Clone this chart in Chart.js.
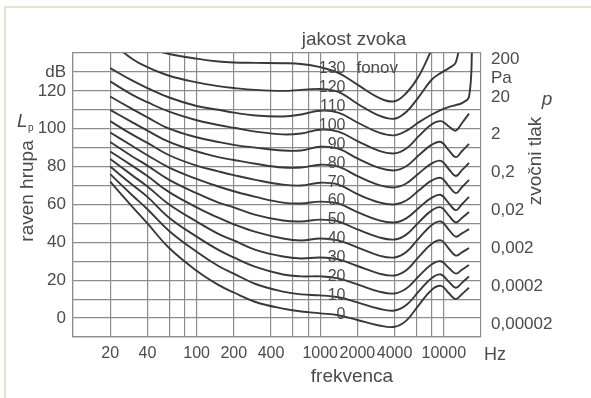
<!DOCTYPE html>
<html><head><meta charset="utf-8">
<script src="https://cdn.jsdelivr.net/npm/chart.js@4"></script>
<style>
html,body{margin:0;padding:0;background:#fff;}
#wrap{position:relative;width:591px;height:398px;overflow:hidden;background:#fff;}
#frame{position:absolute;left:4px;top:6px;width:640px;height:440px;border:2px solid #e6e2cc;box-sizing:border-box;}
canvas{position:absolute;left:0;top:0;}
</style></head><body>
<div id="wrap"><div id="frame"></div><canvas id="c" width="591" height="398"></canvas></div>
<script>
// frequencies (Hz) of the sampled points
const freq = [20, 30, 40, 60, 100, 150, 200, 300, 500, 700, 1000, 1400, 2000, 3000, 4000, 5000, 6300, 8000, 9500, 11000, 12500, 14000, 16000, 17000];
// loudness levels (phon)
const phon = [0, 10, 20, 30, 40, 50, 60, 70, 80, 90, 100, 110, 120, 130];
// sound pressure level (dB) of each equal-loudness curve
const lvl0   = [72, 59, 50, 37, 25, 17.5, 13.5, 8.5, 5, 3.5, 2.5, 1.5, -1, -3.9, -4.6, -1.2, 7, 15, 17, 13.1, 10, 12.6, 16, null];
const lvl10  = [76, 65, 57.5, 46, 35, 27.5, 23.5, 18, 14, 12.5, 12, 11, 8.3, 4.9, 4, 7, 14.2, 21.2, 23, 19.1, 16, 18.6, 22, null];
const lvl20  = [80, 70.5, 64, 53, 43, 36, 32, 27, 23, 22, 22, 21, 17.8, 14, 13, 15.7, 22.2, 28.4, 30, 26.4, 23.5, 25.5, 28, null];
const lvl30  = [84, 75.5, 69.5, 60, 51, 44.5, 41, 36, 32.5, 31.5, 32, 31, 27.5, 23.5, 22.5, 25.4, 32.5, 39.3, 41, 36.6, 33, 34.7, 37, null];
const lvl40  = [88, 80.5, 75, 66.5, 58.5, 53, 49.5, 45.5, 42, 41, 42, 41, 37.3, 33, 32, 35, 42.2, 49.2, 51, 46.6, 43, 44.7, 47, null];
const lvl50  = [93, 85.5, 80.5, 73, 66, 61, 58.5, 54.5, 51.5, 51, 52, 51, 46.8, 42.6, 41.5, 44.2, 50.7, 56.9, 58.5, 54.1, 50.5, 52.9, 56, null];
const lvl60  = [98, 91, 86, 79.5, 73.5, 69.5, 67, 64, 61, 60.5, 61.5, 60.5, 56, 51.6, 50.5, 52.8, 58.3, 63.6, 65, 60.6, 57, 60.1, 64, null];
const lvl70  = [104, 97, 92.5, 86, 80.5, 77.5, 75.5, 73, 70.5, 70, 71.5, 70.5, 65.5, 61.1, 60, 62.2, 67.5, 72.7, 74, 69.6, 66, 69.1, 73, null];
const lvl80  = [110, 103.5, 99, 93, 88, 85, 83.5, 81.5, 79.5, 79.5, 81, 80, 75, 70.2, 69, 71.2, 76.5, 81.7, 83, 78.6, 75, 78.1, 82, null];
const lvl90  = [117, 110.5, 106, 100, 95.5, 93, 91.5, 90, 88.5, 88.5, 90.5, 89.5, 84.3, 79.3, 78, 80.3, 86.1, 91.6, 93, 88.6, 85, 88.1, 92, null];
const lvl100 = [125, 118, 114, 109, 104.5, 102, 100.5, 98.5, 97, 97.5, 99.5, 98.5, 93.5, 88.3, 87, 89.7, 96.2, 102.4, 104, 101.2, 99, 102.9, 108, null];
const lvl110 = [132, 125.5, 121.5, 116.5, 112, 110, 108.5, 107, 106.5, 107.5, 109.5, 108.5, 103.3, 97.9, 96.5, 99, 103.5, 107.5, 110, 111.5, 112.5, 113.5, 117, 145];
const lvl120 = [146, 137, 132.5, 128, 124.5, 122.5, 121.5, 120.5, 120, 120.5, 121, 119.5, 113.2, 106.9, 105.3, 109, 117, 126, 129.5, 132, 135, 152, null, null];
const lvl130 = [null, null, 142.5, 139.5, 137, 135.5, 135, 134.8, 134.6, 134.2, 132.5, 129.5, 123.3, 116.3, 114.5, 119, 128, 142, null, null, null, null, null, null];

// axes
const xGrid = [10, 20, 40, 60, 80, 100, 200, 400, 600, 800, 1000, 2000, 4000, 6000, 8000, 10000, 20000];
const xTickVals = [20, 40, 100, 200, 400, 1000, 2000, 4000, 10000];
const xTickText = ['20', '40', '100', '200', '400', '1000', '2000', '4000', '10000'];
const yGrid = [-10, 0, 10, 20, 30, 40, 50, 60, 70, 80, 90, 100, 110, 120, 130, 140];
const yLeftVals = [0, 20, 40, 60, 80, 100, 120, 130];
const yLeftText = ['0', '20', '40', '60', '80', '100', '120', 'dB'];
const yRightVals = [140, 130, 120, 100, 80, 60, 40, 20, 0];
const yRightText = ['200', 'Pa', '20', '2', '0,2', '0,02', '0,002', '0,0002', '0,00002'];
const labelFreq = 1600;

const curves = [lvl0, lvl10, lvl20, lvl30, lvl40, lvl50, lvl60, lvl70, lvl80, lvl90, lvl100, lvl110, lvl120, lvl130];
const FONT = '"Liberation Sans", Arial, Helvetica, sans-serif';
const TXT = '#4b4b4b';
const GRID = '#8c8c8c';

const datasets = curves.map((arr, i) => ({
  label: phon[i] + ' fonov',
  data: freq.map((f, j) => ({ x: f, y: arr[j] })),
  borderColor: '#383838',
  borderWidth: 1.9,
  pointRadius: 0,
  fill: false,
  spanGaps: false,
  tension: 0.4
}));

const textPlugin = {
  id: 'texts',
  afterDatasetsDraw(chart) {
    const ctx = chart.ctx, xs = chart.scales.x, ys = chart.scales.y;
    ctx.save();
    ctx.fillStyle = TXT;
    // curve labels
    ctx.font = '16px ' + FONT;
    ctx.textBaseline = 'alphabetic';
    const lx = xs.getPixelForValue(labelFreq);
    phon.forEach(p => {
      const y = ys.getPixelForValue(p) + 1;
      ctx.textAlign = 'right';
      ctx.fillText(String(p), lx, y);
      if (p === 130) { ctx.textAlign = 'left'; ctx.font = '17px ' + FONT; ctx.fillText('fonov', lx + 11, y); ctx.font = '16px ' + FONT; }
    });
    // titles
    ctx.font = '19px ' + FONT;
    ctx.textAlign = 'center';
    ctx.fillText('jakost zvoka', 354, 45);
    ctx.fillText('frekvenca', 352, 382);
    ctx.font = '18px ' + FONT;
    ctx.fillText('Hz', 495, 360);
    // left axis title
    ctx.save();
    ctx.translate(28, 191); ctx.rotate(-Math.PI / 2);
    ctx.font = '19px ' + FONT; ctx.textBaseline = 'middle';
    ctx.fillText('raven hrupa', 0, 0);
    ctx.restore();
    ctx.font = 'italic 19px ' + FONT; ctx.textAlign = 'left';
    ctx.fillText('L', 17, 127);
    ctx.font = '10px ' + FONT;
    ctx.fillText('p', 28, 131);
    // right axis title
    ctx.save();
    ctx.translate(536, 161); ctx.rotate(-Math.PI / 2);
    ctx.font = '19px ' + FONT; ctx.textAlign = 'center'; ctx.textBaseline = 'middle';
    ctx.fillText('zvočni tlak', 0, 0);
    ctx.restore();
    ctx.font = 'italic 19px ' + FONT; ctx.textAlign = 'center';
    ctx.fillText('p', 547, 105);
    ctx.restore();
  }
};

new Chart(document.getElementById('c'), {
  type: 'line',
  data: { datasets },
  plugins: [textPlugin],
  options: {
    responsive: false,
    animation: false,
    events: [],
    layout: { padding: { top: 53, left: 0, right: 0, bottom: 0 } },
    plugins: { legend: { display: false }, title: { display: false }, tooltip: { enabled: false } },
    scales: {
      x: {
        type: 'logarithmic', min: 10, max: 20000,
        afterBuildTicks: ax => { ax.ticks = xGrid.map(v => ({ value: v })); },
        afterFit: s => { s.height = 61; },
        ticks: {
          autoSkip: false, maxRotation: 0, minRotation: 0, padding: 7, color: TXT,
          font: { family: FONT, size: 16 },
          callback: v => { const i = xTickVals.indexOf(v); return i >= 0 ? xTickText[i] : ''; }
        },
        grid: { color: GRID, lineWidth: 1.2, drawTicks: false },
        border: { color: GRID, width: 1.2 }
      },
      y: {
        type: 'linear', position: 'left', min: -10, max: 140,
        afterBuildTicks: ax => { ax.ticks = yGrid.map(v => ({ value: v })); },
        afterFit: s => { s.width = 73; },
        ticks: {
          autoSkip: false, padding: 7, color: TXT,
          font: { family: FONT, size: 17 },
          callback: v => { const i = yLeftVals.indexOf(v); return i >= 0 ? yLeftText[i] : ''; }
        },
        grid: { color: GRID, lineWidth: 1.2, drawTicks: false },
        border: { color: GRID, width: 1.2 }
      },
      y2: {
        type: 'linear', position: 'right', min: -10, max: 140,
        afterBuildTicks: ax => { ax.ticks = yRightVals.map(v => ({ value: v })); },
        afterFit: s => { s.width = 110; },
        ticks: {
          autoSkip: false, padding: 10, color: TXT, labelOffset: 6,
          font: { family: FONT, size: 17 },
          callback: v => { const i = yRightVals.indexOf(v); return i >= 0 ? yRightText[i] : ''; }
        },
        grid: { drawOnChartArea: false, drawTicks: false },
        border: { display: false }
      }
    }
  }
});
</script>
</body></html>
